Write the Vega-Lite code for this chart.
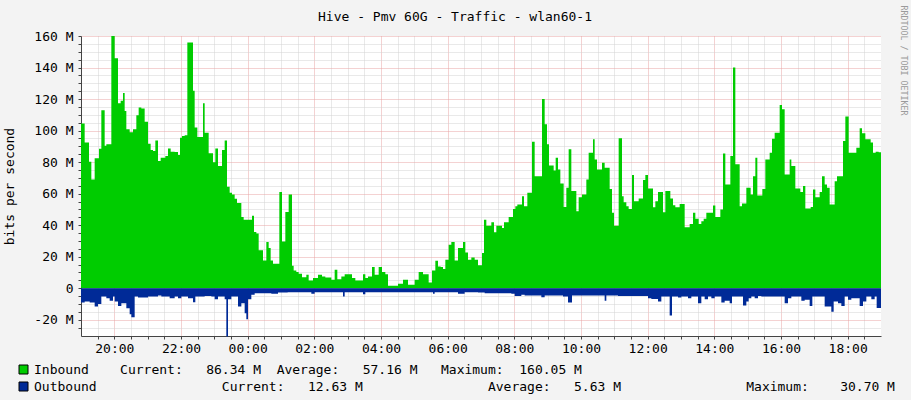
{
  "$schema": "https://vega.github.io/schema/vega-lite/v6.json",
  "width": 800,
  "height": 300,
  "autosize": {"type": "none"},
  "padding": {"left": 81, "top": 36, "right": 30, "bottom": 64},
  "background": "#f3f3f3",
  "title": {"text": "Hive - Pmv 60G - Traffic - wlan60-1", "font": "DejaVu Sans Mono", "fontSize": 13, "fontWeight": "normal", "color": "#000000", "anchor": "middle", "dx": -26, "dy": 15, "offset": -14, "baseline": "alphabetic"},
  "config": {"view": {"fill": "#ffffff", "stroke": null}, "font": "DejaVu Sans Mono"},
  "data": {"values": [
    {"t":0,"series":"Inbound","v":104.5},{"t":0.11,"series":"Inbound","v":92.4},{"t":0.24,"series":"Inbound","v":80.3},{"t":0.31,"series":"Inbound","v":69},{"t":0.41,"series":"Inbound","v":82.4},{"t":0.54,"series":"Inbound","v":88.5},{"t":0.61,"series":"Inbound","v":113},{"t":0.71,"series":"Inbound","v":90.4},{"t":0.76,"series":"Inbound","v":91.3},{"t":0.91,"series":"Inbound","v":160},
    {"t":1.01,"series":"Inbound","v":145.9},{"t":1.11,"series":"Inbound","v":117.4},{"t":1.19,"series":"Inbound","v":119},{"t":1.26,"series":"Inbound","v":123.8},{"t":1.31,"series":"Inbound","v":112.5},{"t":1.36,"series":"Inbound","v":100.8},{"t":1.46,"series":"Inbound","v":99},{"t":1.56,"series":"Inbound","v":100.8},{"t":1.66,"series":"Inbound","v":109.8},{"t":1.73,"series":"Inbound","v":114.6},{"t":1.81,"series":"Inbound","v":114},{"t":1.91,"series":"Inbound","v":105.7},
    {"t":2.01,"series":"Inbound","v":91.7},{"t":2.09,"series":"Inbound","v":87.7},{"t":2.16,"series":"Inbound","v":87},{"t":2.23,"series":"Inbound","v":93.8},{"t":2.31,"series":"Inbound","v":80.7},{"t":2.39,"series":"Inbound","v":82.8},{"t":2.53,"series":"Inbound","v":83.9},{"t":2.61,"series":"Inbound","v":88.7},{"t":2.69,"series":"Inbound","v":86.6},{"t":2.81,"series":"Inbound","v":86.4},{"t":2.91,"series":"Inbound","v":84.5},{"t":2.97,"series":"Inbound","v":95.5},
    {"t":3.03,"series":"Inbound","v":96.6},{"t":3.11,"series":"Inbound","v":97},{"t":3.19,"series":"Inbound","v":156},{"t":3.36,"series":"Inbound","v":125.3},{"t":3.41,"series":"Inbound","v":101.9},{"t":3.49,"series":"Inbound","v":96},{"t":3.66,"series":"Inbound","v":117.4},{"t":3.71,"series":"Inbound","v":98.7},{"t":3.83,"series":"Inbound","v":85.6},{"t":3.96,"series":"Inbound","v":80},
    {"t":4.03,"series":"Inbound","v":88.7},{"t":4.11,"series":"Inbound","v":77.5},{"t":4.23,"series":"Inbound","v":87.7},{"t":4.31,"series":"Inbound","v":93.8},{"t":4.38,"series":"Inbound","v":64.3},{"t":4.46,"series":"Inbound","v":60.5},{"t":4.53,"series":"Inbound","v":59.5},{"t":4.61,"series":"Inbound","v":56.7},{"t":4.68,"series":"Inbound","v":54},{"t":4.81,"series":"Inbound","v":45.2},{"t":4.88,"series":"Inbound","v":43.5},
    {"t":5.13,"series":"Inbound","v":46},{"t":5.19,"series":"Inbound","v":35.7},{"t":5.26,"series":"Inbound","v":34.7},{"t":5.33,"series":"Inbound","v":24},{"t":5.46,"series":"Inbound","v":17.6},{"t":5.56,"series":"Inbound","v":29.3},{"t":5.63,"series":"Inbound","v":25.5},{"t":5.69,"series":"Inbound","v":17.6},{"t":5.76,"series":"Inbound","v":15.5},{"t":5.95,"series":"Inbound","v":61.1},
    {"t":6.03,"series":"Inbound","v":29.7},{"t":6.13,"series":"Inbound","v":48.4},{"t":6.23,"series":"Inbound","v":59.4},{"t":6.33,"series":"Inbound","v":14.2},{"t":6.38,"series":"Inbound","v":11.3},{"t":6.46,"series":"Inbound","v":10.2},{"t":6.53,"series":"Inbound","v":9.1},{"t":6.63,"series":"Inbound","v":7},{"t":6.76,"series":"Inbound","v":8.5},{"t":6.83,"series":"Inbound","v":4.9},{"t":6.96,"series":"Inbound","v":6.4},
    {"t":7.11,"series":"Inbound","v":8.5},{"t":7.23,"series":"Inbound","v":7.4},{"t":7.33,"series":"Inbound","v":6.8},{"t":7.51,"series":"Inbound","v":5.3},{"t":7.61,"series":"Inbound","v":11.7},{"t":7.69,"series":"Inbound","v":5.7},{"t":7.81,"series":"Inbound","v":7.4},{"t":7.91,"series":"Inbound","v":8.9},
    {"t":8.13,"series":"Inbound","v":6.4},{"t":8.23,"series":"Inbound","v":4.9},{"t":8.46,"series":"Inbound","v":8.9},{"t":8.53,"series":"Inbound","v":6.4},{"t":8.61,"series":"Inbound","v":7.4},{"t":8.73,"series":"Inbound","v":13.4},{"t":8.81,"series":"Inbound","v":8.5},{"t":8.93,"series":"Inbound","v":13.4},
    {"t":9.03,"series":"Inbound","v":10.2},{"t":9.13,"series":"Inbound","v":8.9},{"t":9.21,"series":"Inbound","v":1.5},{"t":9.51,"series":"Inbound","v":2.8},{"t":9.66,"series":"Inbound","v":5.3},{"t":9.81,"series":"Inbound","v":2.1},
    {"t":10.01,"series":"Inbound","v":5.3},{"t":10.13,"series":"Inbound","v":10.2},{"t":10.26,"series":"Inbound","v":8.9},{"t":10.43,"series":"Inbound","v":3.6},{"t":10.53,"series":"Inbound","v":11.3},{"t":10.63,"series":"Inbound","v":17.4},{"t":10.71,"series":"Inbound","v":13.8},{"t":10.79,"series":"Inbound","v":13.4},{"t":10.86,"series":"Inbound","v":12.1},{"t":10.93,"series":"Inbound","v":18},
    {"t":11.03,"series":"Inbound","v":27.6},{"t":11.11,"series":"Inbound","v":29.3},{"t":11.21,"series":"Inbound","v":17.6},{"t":11.31,"series":"Inbound","v":25.5},{"t":11.46,"series":"Inbound","v":29.3},{"t":11.53,"series":"Inbound","v":22.7},{"t":11.61,"series":"Inbound","v":18},{"t":11.71,"series":"Inbound","v":19.5},{"t":11.81,"series":"Inbound","v":18},{"t":11.91,"series":"Inbound","v":14.5},
    {"t":12.03,"series":"Inbound","v":22.3},{"t":12.09,"series":"Inbound","v":43.5},{"t":12.16,"series":"Inbound","v":39.7},{"t":12.31,"series":"Inbound","v":41.8},{"t":12.39,"series":"Inbound","v":35.5},{"t":12.46,"series":"Inbound","v":39.7},{"t":12.63,"series":"Inbound","v":38.2},{"t":12.69,"series":"Inbound","v":41.8},{"t":12.83,"series":"Inbound","v":45.2},{"t":12.96,"series":"Inbound","v":50.3},
    {"t":13.03,"series":"Inbound","v":52},{"t":13.09,"series":"Inbound","v":53.1},{"t":13.23,"series":"Inbound","v":58.4},{"t":13.29,"series":"Inbound","v":52},{"t":13.39,"series":"Inbound","v":60.5},{"t":13.53,"series":"Inbound","v":93},{"t":13.61,"series":"Inbound","v":71.1},{"t":13.83,"series":"Inbound","v":120},{"t":13.91,"series":"Inbound","v":104},{"t":13.98,"series":"Inbound","v":91.3},
    {"t":14.04,"series":"Inbound","v":77.9},{"t":14.18,"series":"Inbound","v":74.7},{"t":14.24,"series":"Inbound","v":82.8},{"t":14.31,"series":"Inbound","v":75.4},{"t":14.38,"series":"Inbound","v":66.5},{"t":14.48,"series":"Inbound","v":51.6},{"t":14.56,"series":"Inbound","v":63.7},{"t":14.63,"series":"Inbound","v":88.1},{"t":14.71,"series":"Inbound","v":61.6},{"t":14.86,"series":"Inbound","v":48.8},{"t":14.93,"series":"Inbound","v":57.7},
    {"t":15.03,"series":"Inbound","v":59.4},{"t":15.16,"series":"Inbound","v":69},{"t":15.23,"series":"Inbound","v":86},{"t":15.36,"series":"Inbound","v":94.5},{"t":15.41,"series":"Inbound","v":81.7},{"t":15.48,"series":"Inbound","v":75.4},{"t":15.63,"series":"Inbound","v":79.6},{"t":15.71,"series":"Inbound","v":76.4},{"t":15.86,"series":"Inbound","v":63},{"t":15.93,"series":"Inbound","v":47.8},{"t":15.99,"series":"Inbound","v":39.7},
    {"t":16.13,"series":"Inbound","v":95.1},{"t":16.23,"series":"Inbound","v":58.4},{"t":16.28,"series":"Inbound","v":54.6},{"t":16.36,"series":"Inbound","v":52},{"t":16.43,"series":"Inbound","v":50.3},{"t":16.53,"series":"Inbound","v":71.8},{"t":16.59,"series":"Inbound","v":55.2},{"t":16.73,"series":"Inbound","v":56.9},{"t":16.86,"series":"Inbound","v":68.6},{"t":16.93,"series":"Inbound","v":71.8},
    {"t":17.01,"series":"Inbound","v":63.3},{"t":17.16,"series":"Inbound","v":51.4},{"t":17.23,"series":"Inbound","v":55.2},{"t":17.31,"series":"Inbound","v":61.1},{"t":17.46,"series":"Inbound","v":48.2},{"t":17.53,"series":"Inbound","v":61.6},{"t":17.68,"series":"Inbound","v":56.9},{"t":17.76,"series":"Inbound","v":52.7},{"t":17.83,"series":"Inbound","v":51.4},{"t":17.96,"series":"Inbound","v":53.5},
    {"t":18.11,"series":"Inbound","v":38.6},{"t":18.26,"series":"Inbound","v":40.8},{"t":18.36,"series":"Inbound","v":47.8},{"t":18.43,"series":"Inbound","v":44},{"t":18.53,"series":"Inbound","v":40.8},{"t":18.61,"series":"Inbound","v":42.5},{"t":18.68,"series":"Inbound","v":44},{"t":18.76,"series":"Inbound","v":47.8},{"t":18.96,"series":"Inbound","v":52.4},
    {"t":19.03,"series":"Inbound","v":45.2},{"t":19.18,"series":"Inbound","v":49.9},{"t":19.26,"series":"Inbound","v":85.4},{"t":19.33,"series":"Inbound","v":65.8},{"t":19.48,"series":"Inbound","v":83.9},{"t":19.56,"series":"Inbound","v":140.1},{"t":19.63,"series":"Inbound","v":78.6},{"t":19.76,"series":"Inbound","v":52},{"t":19.83,"series":"Inbound","v":53.7},{"t":19.96,"series":"Inbound","v":63.7},
    {"t":20.09,"series":"Inbound","v":59.4},{"t":20.16,"series":"Inbound","v":71.1},{"t":20.23,"series":"Inbound","v":82.8},{"t":20.29,"series":"Inbound","v":58.8},{"t":20.44,"series":"Inbound","v":63},{"t":20.53,"series":"Inbound","v":81.7},{"t":20.66,"series":"Inbound","v":86},{"t":20.73,"series":"Inbound","v":94.9},{"t":20.81,"series":"Inbound","v":98.7},{"t":20.96,"series":"Inbound","v":116.3},
    {"t":21.03,"series":"Inbound","v":113.6},{"t":21.11,"series":"Inbound","v":72.2},{"t":21.26,"series":"Inbound","v":81.7},{"t":21.31,"series":"Inbound","v":77.5},{"t":21.43,"series":"Inbound","v":63.3},{"t":21.58,"series":"Inbound","v":61.1},{"t":21.66,"series":"Inbound","v":64.8},{"t":21.73,"series":"Inbound","v":50.5},{"t":21.89,"series":"Inbound","v":51.6},{"t":21.96,"series":"Inbound","v":62.6},
    {"t":22.03,"series":"Inbound","v":57.7},{"t":22.16,"series":"Inbound","v":61.1},{"t":22.23,"series":"Inbound","v":71.1},{"t":22.31,"series":"Inbound","v":65.8},{"t":22.38,"series":"Inbound","v":63.7},{"t":22.46,"series":"Inbound","v":53.1},{"t":22.61,"series":"Inbound","v":67.9},{"t":22.68,"series":"Inbound","v":71.1},{"t":22.86,"series":"Inbound","v":93.4},{"t":22.93,"series":"Inbound","v":108.9},
    {"t":23.03,"series":"Inbound","v":86},{"t":23.26,"series":"Inbound","v":89.2},{"t":23.36,"series":"Inbound","v":101.5},{"t":23.43,"series":"Inbound","v":98.3},{"t":23.53,"series":"Inbound","v":94.5},{"t":23.69,"series":"Inbound","v":92.4},{"t":23.76,"series":"Inbound","v":86},{"t":23.84,"series":"Inbound","v":86.6},{"t":23.93,"series":"Inbound","v":86.34},{"t":24,"series":"Inbound","v":86.34},
    {"t":0,"series":"Outbound","v":-9.1},{"t":0.11,"series":"Outbound","v":-8.5},{"t":0.26,"series":"Outbound","v":-9.1},{"t":0.41,"series":"Outbound","v":-11.7},{"t":0.51,"series":"Outbound","v":-10},{"t":0.61,"series":"Outbound","v":-5.3},{"t":0.76,"series":"Outbound","v":-6.4},{"t":0.86,"series":"Outbound","v":-7.9},{"t":0.96,"series":"Outbound","v":-5.3},
    {"t":1.01,"series":"Outbound","v":-8.5},{"t":1.11,"series":"Outbound","v":-11.3},{"t":1.21,"series":"Outbound","v":-9.6},{"t":1.36,"series":"Outbound","v":-12.7},{"t":1.46,"series":"Outbound","v":-16.6},{"t":1.51,"series":"Outbound","v":-18.5},{"t":1.61,"series":"Outbound","v":-5.3},{"t":1.71,"series":"Outbound","v":-5.9},
    {"t":2.01,"series":"Outbound","v":-5.3},{"t":2.31,"series":"Outbound","v":-4.7},{"t":2.41,"series":"Outbound","v":-5.3},{"t":2.66,"series":"Outbound","v":-6.4},{"t":2.81,"series":"Outbound","v":-5.3},{"t":2.91,"series":"Outbound","v":-6.4},
    {"t":3.01,"series":"Outbound","v":-5.3},{"t":3.21,"series":"Outbound","v":-6.4},{"t":3.36,"series":"Outbound","v":-8.9},{"t":3.43,"series":"Outbound","v":-5.3},{"t":3.71,"series":"Outbound","v":-4.9},{"t":3.91,"series":"Outbound","v":-5.3},
    {"t":4.01,"series":"Outbound","v":-7},{"t":4.11,"series":"Outbound","v":-5.3},{"t":4.31,"series":"Outbound","v":-7},{"t":4.36,"series":"Outbound","v":-30.7},{"t":4.41,"series":"Outbound","v":-7},{"t":4.51,"series":"Outbound","v":-5.3},{"t":4.71,"series":"Outbound","v":-11.7},{"t":4.81,"series":"Outbound","v":-9.6},{"t":4.91,"series":"Outbound","v":-15.9},{"t":4.96,"series":"Outbound","v":-19.7},
    {"t":5.01,"series":"Outbound","v":-7},{"t":5.11,"series":"Outbound","v":-4.2},{"t":5.21,"series":"Outbound","v":-3.2},{"t":5.71,"series":"Outbound","v":-3.6},{"t":5.91,"series":"Outbound","v":-2.8},
    {"t":6.2,"series":"Outbound","v":-2.6},{"t":6.91,"series":"Outbound","v":-3.6},{"t":7.01,"series":"Outbound","v":-2.6},{"t":7.86,"series":"Outbound","v":-5.3},{"t":7.91,"series":"Outbound","v":-2.6},{"t":8.46,"series":"Outbound","v":-3.8},{"t":8.53,"series":"Outbound","v":-2.6},
    {"t":10.56,"series":"Outbound","v":-3.6},{"t":10.61,"series":"Outbound","v":-2.6},{"t":11.31,"series":"Outbound","v":-3.6},{"t":11.51,"series":"Outbound","v":-2.6},{"t":11.91,"series":"Outbound","v":-2.8},
    {"t":12.11,"series":"Outbound","v":-3.2},{"t":12.91,"series":"Outbound","v":-3.6},{"t":13.01,"series":"Outbound","v":-4.9},{"t":13.21,"series":"Outbound","v":-4.2},{"t":13.31,"series":"Outbound","v":-4.7},{"t":13.81,"series":"Outbound","v":-5.7},{"t":13.91,"series":"Outbound","v":-4.7},
    {"t":14.46,"series":"Outbound","v":-5.3},{"t":14.61,"series":"Outbound","v":-9.1},{"t":14.73,"series":"Outbound","v":-4.7},{"t":15.71,"series":"Outbound","v":-7.9},{"t":15.76,"series":"Outbound","v":-4.7},{"t":16.11,"series":"Outbound","v":-4.9},
    {"t":17.01,"series":"Outbound","v":-6.4},{"t":17.11,"series":"Outbound","v":-6.8},{"t":17.31,"series":"Outbound","v":-8.5},{"t":17.41,"series":"Outbound","v":-5.3},{"t":17.66,"series":"Outbound","v":-17.4},{"t":17.73,"series":"Outbound","v":-5.3},{"t":17.91,"series":"Outbound","v":-5.9},
    {"t":18.01,"series":"Outbound","v":-5.3},{"t":18.21,"series":"Outbound","v":-6.4},{"t":18.31,"series":"Outbound","v":-5.3},{"t":18.51,"series":"Outbound","v":-9.6},{"t":18.61,"series":"Outbound","v":-5.3},{"t":18.71,"series":"Outbound","v":-7},{"t":18.81,"series":"Outbound","v":-5.3},{"t":18.91,"series":"Outbound","v":-6.4},
    {"t":19.01,"series":"Outbound","v":-5.3},{"t":19.21,"series":"Outbound","v":-9.1},{"t":19.31,"series":"Outbound","v":-7.9},{"t":19.46,"series":"Outbound","v":-9.6},{"t":19.53,"series":"Outbound","v":-5.3},{"t":19.86,"series":"Outbound","v":-11},{"t":19.96,"series":"Outbound","v":-8.5},
    {"t":20.03,"series":"Outbound","v":-6.4},{"t":20.11,"series":"Outbound","v":-5.3},{"t":20.21,"series":"Outbound","v":-6.4},{"t":20.31,"series":"Outbound","v":-4.9},{"t":20.41,"series":"Outbound","v":-5.3},
    {"t":21.11,"series":"Outbound","v":-9.6},{"t":21.21,"series":"Outbound","v":-6.4},{"t":21.31,"series":"Outbound","v":-5.3},{"t":21.61,"series":"Outbound","v":-7.9},{"t":21.71,"series":"Outbound","v":-7.4},{"t":21.86,"series":"Outbound","v":-11.3},{"t":21.94,"series":"Outbound","v":-5.3},
    {"t":22.31,"series":"Outbound","v":-11.7},{"t":22.51,"series":"Outbound","v":-14.9},{"t":22.58,"series":"Outbound","v":-8.5},{"t":22.71,"series":"Outbound","v":-9.6},{"t":22.81,"series":"Outbound","v":-11.3},{"t":22.91,"series":"Outbound","v":-5.3},
    {"t":23.01,"series":"Outbound","v":-7.4},{"t":23.11,"series":"Outbound","v":-6.4},{"t":23.36,"series":"Outbound","v":-11.3},{"t":23.46,"series":"Outbound","v":-8.5},{"t":23.56,"series":"Outbound","v":-5.3},{"t":23.71,"series":"Outbound","v":-7},{"t":23.81,"series":"Outbound","v":-5.3},{"t":23.87,"series":"Outbound","v":-12.63},{"t":24,"series":"Outbound","v":-12.63}
  ]},
  "layer": [
    {
      "mark": {"type": "area", "interpolate": "step-after", "opacity": 1},
      "encoding": {
        "x": {"field": "t", "type": "quantitative",
          "scale": {"domain": [0, 24], "nice": false, "zero": false},
          "axis": {"title": null, "values": [0.5,1,1.5,2,2.5,3,3.5,4,4.5,5,5.5,6,6.5,7,7.5,8,8.5,9,9.5,10,10.5,11,11.5,12,12.5,13,13.5,14,14.5,15,15.5,16,16.5,17,17.5,18,18.5,19,19.5,20,20.5,21,21.5,22,22.5,23,23.5],
            "labelExpr": "datum.value % 2 == 1 ? (((datum.value + 19) % 24) < 10 ? '0' : '') + ((datum.value + 19) % 24) + ':00' : ''",
            "grid": true, "gridColor": {"condition": {"test": "datum.value % 2 == 1", "value": "#e9a4a4"}, "value": "#d2d2d2"}, "gridDash": [1, 1], "gridOpacity": 1,
            "domainColor": "#444444", "tickColor": "#444444", "tickSize": 3,
            "labelFont": "DejaVu Sans Mono", "labelFontSize": 13, "labelColor": "#000000", "labelPadding": 3, "labelFlush": false, "labelOverlap": false}},
        "y": {"field": "v", "type": "quantitative", "stack": null,
          "scale": {"domain": [-30.35, 160.05], "nice": false, "zero": false},
          "axis": {"orient": "left", "values": [-25,-20,-15,-10,-5,0,5,10,15,20,25,30,35,40,45,50,55,60,65,70,75,80,85,90,95,100,105,110,115,120,125,130,135,140,145,150,155,160],
            "labelExpr": "datum.value % 20 == 0 ? (datum.value == 0 ? '0' : datum.value + ' M') : ''",
            "grid": true, "gridColor": {"condition": {"test": "datum.value % 20 == 0", "value": "#e9a4a4"}, "value": "#d2d2d2"}, "gridDash": [1, 1], "gridOpacity": 1,
            "domainColor": "#444444", "tickColor": "#444444", "tickSize": 3,
            "labelFont": "DejaVu Sans Mono", "labelFontSize": 13, "labelColor": "#000000", "labelPadding": 5, "labelFlush": false, "labelOverlap": false,
            "title": "bits per second", "titleFont": "DejaVu Sans Mono", "titleFontSize": 13, "titleFontWeight": "normal", "titleColor": "#000000", "titlePadding": 17}},
        "color": {"field": "series", "type": "nominal",
          "scale": {"domain": ["Inbound", "Outbound"], "range": ["#00cc00", "#002a97"]},
          "legend": {"orient": "none", "legendX": -64, "legendY": 327, "direction": "vertical", "title": null,
            "symbolType": "square", "symbolSize": 81, "symbolStrokeColor": "#000000", "symbolStrokeWidth": 1, "symbolOpacity": 1,
            "labelFont": "DejaVu Sans Mono", "labelFontSize": 13, "labelColor": "#000000", "labelLimit": 1000, "labelOffset": 4, "rowPadding": 3, "padding": 0,
            "labelExpr": "datum.label == 'Inbound' ? 'Inbound\u00a0\u00a0\u00a0\u00a0Current:\u00a0\u00a0\u00a086.34\u00a0M\u00a0\u00a0Average:\u00a0\u00a0\u00a057.16\u00a0M\u00a0\u00a0\u00a0Maximum:\u00a0\u00a0160.05\u00a0M' : 'Outbound\u00a0\u00a0\u00a0\u00a0\u00a0\u00a0\u00a0\u00a0\u00a0\u00a0\u00a0\u00a0\u00a0\u00a0\u00a0\u00a0Current:\u00a0\u00a0\u00a012.63\u00a0M\u00a0\u00a0\u00a0\u00a0\u00a0\u00a0\u00a0\u00a0\u00a0\u00a0\u00a0\u00a0\u00a0\u00a0\u00a0\u00a0Average:\u00a0\u00a0\u00a05.63\u00a0M\u00a0\u00a0\u00a0\u00a0\u00a0\u00a0\u00a0\u00a0\u00a0\u00a0\u00a0\u00a0\u00a0\u00a0\u00a0\u00a0Maximum:\u00a0\u00a0\u00a0\u00a030.70\u00a0M'"}}
      }
    },
    {
      "data": {"values": [{}]},
      "mark": {"type": "rule", "opacity": 0},
      "encoding": {
        "y": {"datum": 0, "type": "quantitative",
          "axis": {"orient": "right", "labels": false, "ticks": false, "domain": false, "grid": false,
            "title": "RRDTOOL / TOBI OETIKER", "titleAngle": 90, "titleFont": "DejaVu Sans Mono", "titleFontSize": 8.3, "titleFontWeight": "normal", "titleColor": "#9a9a9a",
            "titleAlign": "left", "titleBaseline": "middle", "titleX": 21.5, "titleY": -31}}
      }
    }
  ],
  "resolve": {"axis": {"y": "independent"}}
}
